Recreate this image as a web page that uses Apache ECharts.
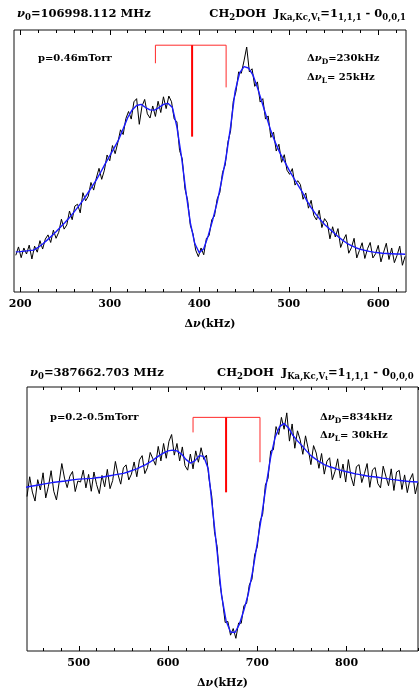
<!DOCTYPE html>
<html>
<head>
<meta charset="utf-8">
<script src="https://cdn.jsdelivr.net/npm/echarts@6/dist/echarts.min.js"></script>
<style>
  html, body { margin: 0; padding: 0; background: #fff; }
  #chart { width: 420px; height: 691px; }
</style>
</head>
<body>
<div id="chart"></div>
<script>
// ---- Upper spectrum: 106998.112 MHz line ----
const upperRange = [193, 631];
const upperTicks = [200, 300, 400, 500, 600];
const upperObsStart = 195, upperObsStep = 3;
const upperObserved = [
  14.0,17.2,13.1,16.8,14.5,17.9,12.6,17.5,15.2,19.6,
  16.4,20.2,21.8,18.9,23.6,20.5,22.8,27.8,24.0,25.6,
  30.9,27.6,32.8,33.5,30.2,37.9,34.8,36.6,41.8,38.9,
  43.5,47.2,43.0,46.5,52.3,50.1,55.9,52.8,57.0,61.9,
  60.1,66.2,68.9,66.0,72.6,73.8,64.0,70.9,73.5,68.0,
  66.4,71.0,67.0,72.8,68.5,74.5,70.0,74.8,72.6,66.0,
  65.0,54.0,50.8,39.4,35.0,25.5,22.2,16.0,13.5,16.8,
  14.2,20.5,21.5,27.6,29.0,35.5,38.0,45.6,48.5,57.2,
  61.5,72.8,76.5,84.0,83.5,88.2,93.5,84.0,85.2,78.5,
  80.2,72.5,73.8,66.0,67.2,59.0,61.0,53.8,56.4,49.5,
  52.4,46.5,44.9,47.1,40.8,42.5,41.0,35.4,37.8,32.0,
  35.0,29.2,27.5,31.2,24.6,28.0,26.5,20.3,24.9,21.0,
  24.2,17.0,19.8,21.9,14.8,16.9,20.5,13.0,15.9,18.8,
  12.8,16.5,18.9,13.0,14.6,17.8,11.5,15.2,18.6,12.4,
  16.8,11.2,14.0,17.5,10.2,13.6
];
const upperFitStart = 195, upperFitStep = 5;
const upperFit = [
  15.3,15.4,15.6,15.8,16.0,17.0,18.3,19.8,21.4,23.0,
  24.8,26.5,28.4,30.5,32.7,35.0,37.5,40.1,42.8,45.8,
  49.0,52.0,55.0,58.2,62.3,66.5,69.5,71.2,71.6,70.4,
  69.5,69.4,70.4,71.6,72.0,70.4,63.0,52.0,38.5,26.5,
  18.5,15.0,16.5,21.5,27.5,34.2,42.5,51.5,63.0,76.5,
  83.5,86.0,85.5,82.8,78.0,72.5,67.0,61.5,57.0,53.2,
  50.0,46.8,43.8,41.0,38.2,35.0,32.2,29.8,27.7,25.8,
  24.2,22.7,21.2,19.8,18.6,17.7,16.9,16.3,15.9,15.5,
  15.2,15.0,14.8,14.7,14.6,14.5,14.5,14.4
];
// hyperfine components: positions (kHz) and where each stick ends
const upperStickFreq = [351, 392, 430];
const upperStickEnd = [87.3, 59.3, 78.1];
const upperStickBar = 94.2;

// ---- Lower spectrum: 387662.703 MHz line ----
const lowerRange = [442, 880];
const lowerTicks = [500, 600, 700, 800];
const lowerObsStart = 442, lowerObsStep = 3;
const lowerObserved = [
  58.5,66.0,60.2,56.8,64.9,61.0,67.5,58.0,62.4,68.3,
  60.5,57.2,63.8,71.0,65.5,61.9,66.2,68.0,60.4,64.4,
  64.0,68.5,61.8,66.9,60.5,67.8,63.0,59.6,66.5,62.2,
  68.8,61.5,64.6,71.8,66.8,63.2,69.4,70.5,64.8,67.0,
  71.6,66.0,72.4,74.0,67.2,69.5,75.2,72.8,70.4,77.5,
  72.0,78.6,73.0,79.4,82.0,74.2,78.6,72.0,77.3,70.2,
  68.5,74.6,69.0,75.8,71.5,77.0,72.6,74.2,65.0,58.5,
  45.2,39.5,25.8,19.0,10.8,11.2,6.0,8.5,4.8,10.6,
  10.5,17.2,18.0,25.0,27.2,36.4,39.5,49.0,51.8,62.8,
  65.4,75.8,76.2,85.0,82.0,88.5,84.0,90.2,79.5,86.0,
  76.8,83.4,80.0,74.5,81.5,76.6,70.6,77.8,75.0,69.2,
  74.8,67.0,71.9,73.2,64.9,68.0,72.8,65.5,70.8,64.0,
  72.5,66.0,62.5,69.8,70.6,63.8,67.2,71.0,62.0,68.6,
  69.5,63.4,61.8,70.0,66.2,62.6,69.0,60.8,67.8,68.4,
  61.2,66.7,60.0,64.9,67.2,59.5,63.8
];
const lowerFitStart = 440, lowerFitStep = 5;
const lowerFit = [
  62.0,62.3,62.6,62.9,63.2,63.5,63.8,64.0,64.2,64.4,
  64.7,64.9,65.1,65.2,65.3,65.4,65.6,65.8,66.1,66.4,
  66.7,67.0,67.3,67.8,68.4,69.0,69.8,70.6,71.6,72.8,
  74.0,75.0,75.8,76.1,75.8,74.6,72.6,71.2,72.0,74.0,
  73.7,69.0,53.4,37.5,21.0,11.5,7.2,7.0,10.2,15.5,
  21.8,30.5,41.0,51.5,63.0,73.5,81.0,85.0,86.2,84.5,
  81.6,79.6,77.8,75.8,74.0,72.8,71.6,70.6,69.9,69.4,
  68.8,68.3,67.9,67.5,67.1,66.8,66.5,66.2,66.0,65.8,
  65.5,65.3,65.0,64.8,64.6,64.4,64.2,64.1,64.0
];
const lowerStickFreq = [628, 665, 703];
const lowerStickEnd = [82.8, 60.1, 71.5];
const lowerStickBar = 88.5;

// ---- helpers ----
const SERIF = "'DejaVu Serif', serif";

function pairs(start, step, values) {
  return values.map((v, i) => [start + i * step, v]);
}

function minorTicks(range, major) {
  const out = [];
  for (let f = Math.ceil(range[0] / 20) * 20; f <= range[1]; f += 20) {
    if (major.indexOf(f) < 0 && f % 100 !== 0) out.push(f);
  }
  return out;
}

function richSet(size) {
  return {
    b: { fontFamily: SERIF, fontWeight: 'bold', fontSize: size, color: '#000', lineHeight: 16 },
    i: { fontFamily: SERIF, fontWeight: 'bold', fontStyle: 'italic', fontSize: size, color: '#000', lineHeight: 16 },
    s: { fontFamily: SERIF, fontWeight: 'bold', fontSize: Math.round(size * 0.74 * 2) / 2, color: '#000', lineHeight: 10, verticalAlign: 'bottom' },
    ss: { fontFamily: SERIF, fontWeight: 'bold', fontSize: Math.round(size * 0.55), color: '#000', lineHeight: 7, verticalAlign: 'bottom' }
  };
}

function label(text, pos, size) {
  return Object.assign({ text: text, padding: 0, textStyle: { rich: richSet(size) } }, pos);
}

function tickAxis(gridIndex, position, range, values, len, withLabels) {
  const ax = {
    type: 'value', gridIndex: gridIndex, position: position,
    min: range[0], max: range[1],
    axisLine: { show: false },
    splitLine: { show: false },
    axisTick: { show: true, inside: true, length: len, customValues: values, lineStyle: { color: '#000', width: 1 } },
    axisLabel: { show: false }
  };
  if (withLabels) {
    ax.axisLabel = { show: true, customValues: values, margin: 7, fontFamily: SERIF, fontWeight: 'bold', fontSize: 11, color: '#000' };
    ax.name = '{b|\u0394}{i|\u03bd}{b|(kHz)}';
    ax.nameLocation = 'middle';
    ax.nameGap = 24;
    ax.nameTextStyle = { rich: richSet(11) };
  }
  return ax;
}

function hiddenY(gridIndex) {
  return {
    type: 'value', gridIndex: gridIndex, min: 0, max: 100,
    axisLine: { show: false }, axisTick: { show: false },
    axisLabel: { show: false }, splitLine: { show: false }
  };
}

function stickSeries(xIdx, yIdx, freq, ends, bar) {
  const frame = [[freq[0], ends[0]], [freq[0], bar], [freq[2], bar], [freq[2], ends[2]]];
  const centre = [[freq[1], bar], [freq[1], ends[1]]];
  const base = { type: 'line', xAxisIndex: xIdx, yAxisIndex: yIdx, showSymbol: false, symbol: 'none', animation: false, silent: true, z: 5 };
  return [
    Object.assign({ data: frame, lineStyle: { color: '#ff2a2a', width: 1 } }, base),
    Object.assign({ data: centre, lineStyle: { color: '#ff0000', width: 2 } }, base)
  ];
}

function traceSeries(xIdx, yIdx, data, color, width, z) {
  return {
    type: 'line', xAxisIndex: xIdx, yAxisIndex: yIdx, data: data,
    showSymbol: false, symbol: 'none', animation: false, silent: true, z: z,
    lineStyle: { color: color, width: width }
  };
}

const upperGrid = { left: 14, top: 30, width: 392, height: 262 };
const lowerGrid = { left: 27, top: 387, width: 391, height: 264 };

const chart = echarts.init(document.getElementById('chart'), null, { renderer: 'canvas' });

chart.setOption({
  animation: false,
  backgroundColor: '#fff',
  title: [
    label('{i|\u03bd}{s|0}{b|=106998.112 MHz}', { left: 17, top: 6 }, 11.5),
    label('{b|CH}{s|2}{b|DOH  J}{s|Ka,Kc,V}{ss|t}{b|=1}{s|1,1,1}{b| - 0}{s|0,0,1}', { right: 14, top: 6 }, 11.5),
    label('{b|p=0.46mTorr}', { left: 38, top: 50 }, 10),
    label('{b|\u0394}{i|\u03bd}{s|D}{b|=230kHz}', { left: 307, top: 50 }, 10),
    label('{b|\u0394}{i|\u03bd}{s|L}{b|= 25kHz}', { left: 307, top: 69 }, 10),

    label('{i|\u03bd}{s|0}{b|=387662.703 MHz}', { left: 30, top: 365 }, 11.5),
    label('{b|CH}{s|2}{b|DOH  J}{s|Ka,Kc,V}{ss|t}{b|=1}{s|1,1,1}{b| - 0}{s|0,0,0}', { left: 217, top: 365 }, 11.5),
    label('{b|p=0.2-0.5mTorr}', { left: 50, top: 409 }, 10),
    label('{b|\u0394}{i|\u03bd}{s|D}{b|=834kHz}', { left: 320, top: 409 }, 10),
    label('{b|\u0394}{i|\u03bd}{s|L}{b|= 30kHz}', { left: 320, top: 427 }, 10)
  ],
  grid: [
    Object.assign({ show: true, borderColor: '#111', borderWidth: 1, backgroundColor: 'transparent' }, upperGrid),
    Object.assign({ show: false }, upperGrid),
    Object.assign({ show: true, borderColor: '#111', borderWidth: 1, backgroundColor: 'transparent' }, lowerGrid),
    Object.assign({ show: false }, lowerGrid)
  ],
  xAxis: [
    tickAxis(0, 'bottom', upperRange, upperTicks, 5, true),
    tickAxis(0, 'top', upperRange, upperTicks, 5, false),
    tickAxis(1, 'bottom', upperRange, minorTicks(upperRange, upperTicks), 3, false),
    tickAxis(1, 'top', upperRange, minorTicks(upperRange, upperTicks), 3, false),
    tickAxis(2, 'bottom', lowerRange, lowerTicks, 5, true),
    tickAxis(2, 'top', lowerRange, lowerTicks, 5, false),
    tickAxis(3, 'bottom', lowerRange, minorTicks(lowerRange, lowerTicks), 3, false),
    tickAxis(3, 'top', lowerRange, minorTicks(lowerRange, lowerTicks), 3, false)
  ],
  yAxis: [hiddenY(0), hiddenY(1), hiddenY(2), hiddenY(3)],
  series: [
    traceSeries(0, 0, pairs(upperObsStart, upperObsStep, upperObserved), '#000', 1, 2),
    traceSeries(0, 0, pairs(upperFitStart, upperFitStep, upperFit), '#1a1aff', 1.4, 3),
    ...stickSeries(0, 0, upperStickFreq, upperStickEnd, upperStickBar),
    traceSeries(4, 2, pairs(lowerObsStart, lowerObsStep, lowerObserved), '#000', 1, 2),
    traceSeries(4, 2, pairs(lowerFitStart, lowerFitStep, lowerFit), '#1a1aff', 1.4, 3),
    ...stickSeries(4, 2, lowerStickFreq, lowerStickEnd, lowerStickBar)
  ]
});
</script>
</body>
</html>
